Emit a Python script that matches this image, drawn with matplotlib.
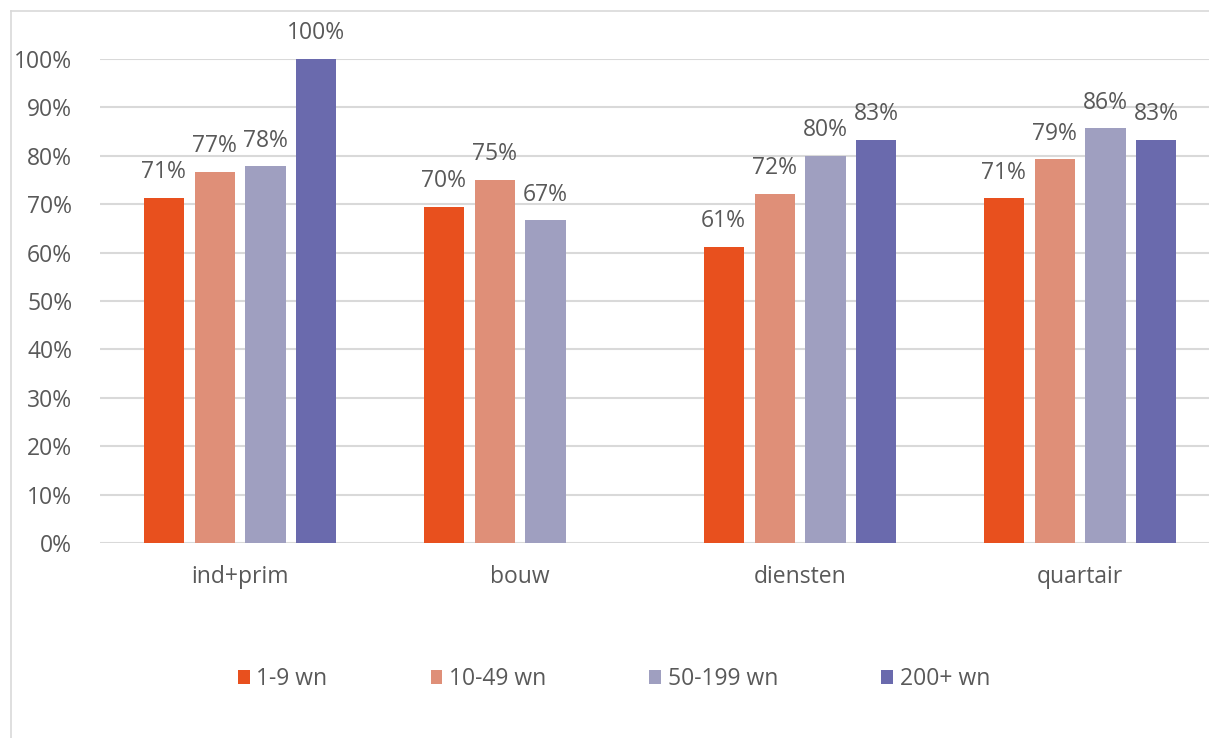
import numpy as np
import matplotlib.pyplot as plt
from matplotlib.lines import Line2D

plt.rcParams['font.family'] = ['Open Sans', 'DejaVu Sans']

categories = ['ind+prim', 'bouw', 'diensten', 'quartair']
series = ['1-9 wn', '10-49 wn', '50-199 wn', '200+ wn']
values = [
    [71.3, 69.5, 61.2, 71.2],
    [76.7, 75.0, 72.2, 79.3],
    [77.8, 66.7, 80.0, 85.7],
    [100.0, np.nan, 83.3, 83.3],
]
colors = ['#E8501E', '#DF8F78', '#9F9FC0', '#6A6AAD']
text_color = '#595959'

fig = plt.figure(figsize=(12.09, 7.38), dpi=100)
# chart frame: only left and top edges are visible in the crop
fx, fy = 10.5 / 1209, 1 - 11 / 738
fig.add_artist(Line2D([fx, fx], [0, fy], transform=fig.transFigure, color='#D9D9D9', lw=1.2))
fig.add_artist(Line2D([fx, 1], [fy, fy], transform=fig.transFigure, color='#D9D9D9', lw=1.2))

ax = fig.add_axes([100 / 1209, (738 - 543) / 738, 1120 / 1209, 484 / 738])

x = np.arange(len(categories))
width = 0.143
step = 0.182
for i, (name, vals, c) in enumerate(zip(series, values, colors)):
    pos = x + (i - 1.5) * step
    ax.bar(pos, vals, width, color=c, label=name, zorder=2)
    for px, v in zip(pos, vals):
        if np.isnan(v):
            continue
        ax.text(px, v + 2.8, f'{v:.0f}%', ha='center', va='bottom',
                fontsize=16.5, color=text_color)

ax.set_xlim(-0.5, 3.5)
ax.set_ylim(0, 100)
ax.set_yticks(np.arange(0, 101, 10))
ax.set_yticklabels([f'{t}%' for t in range(0, 101, 10)])
ax.set_xticks(x)
ax.set_xticklabels(categories)
ax.tick_params(axis='both', length=0, labelsize=16.5, labelcolor=text_color)
ax.tick_params(axis='x', pad=16)
ax.tick_params(axis='y', pad=20)
ax.grid(axis='y', color='#D9D9D9', lw=1.5, zorder=0)
for s in ax.spines.values():
    s.set_visible(False)

leg = fig.legend(loc='center', bbox_to_anchor=(614 / 1209, 1 - 679 / 738),
                 ncol=4, frameon=False, fontsize=16.5, handlelength=0.5,
                 handleheight=0.55, handletextpad=0.3, columnspacing=4.5,
                 labelcolor=text_color)

fig.savefig('out.png', dpi=100)
